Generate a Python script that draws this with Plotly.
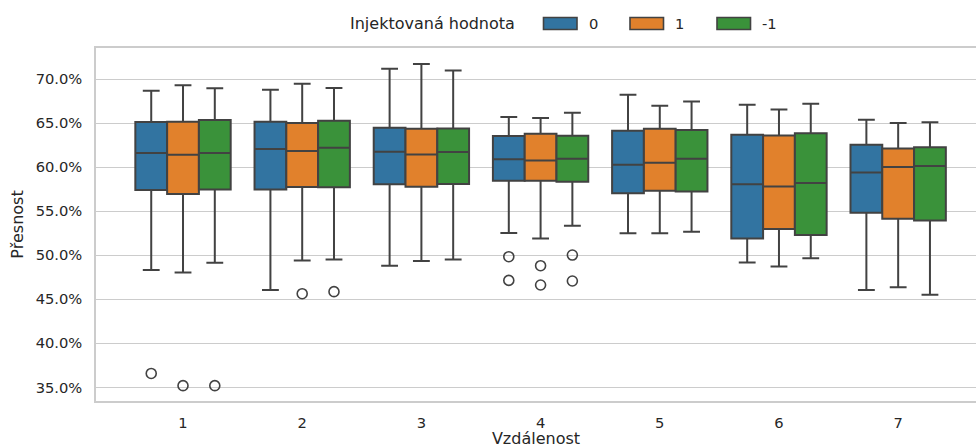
import plotly.graph_objects as go

categories = ["1", "2", "3", "4", "5", "6", "7"]
hues = ["0", "1", "-1"]
colors = ["#3274a1", "#e1812c", "#3a923a"]

# values in percent, per hue: one entry per category
upper = {
    "0":  [68.67, 68.79, 71.17, 65.69, 68.22, 67.08, 65.38],
    "1":  [69.28, 69.47, 71.70, 65.57, 66.97, 66.55, 65.00],
    "-1": [68.94, 68.98, 70.98, 66.17, 67.46, 67.20, 65.08],
}
q3 = {
    "0":  [65.12, 65.15, 64.47, 63.53, 64.13, 63.68, 62.54],
    "1":  [65.15, 65.00, 64.36, 63.79, 64.36, 63.60, 62.12],
    "-1": [65.35, 65.27, 64.39, 63.57, 64.21, 63.83, 62.24],
}
median = {
    "0":  [61.60, 62.05, 61.75, 60.88, 60.27, 58.04, 59.40],
    "1":  [61.41, 61.83, 61.44, 60.76, 60.50, 57.81, 60.01],
    "-1": [61.60, 62.20, 61.71, 60.95, 60.95, 58.19, 60.12],
}
q1 = {
    "0":  [57.40, 57.47, 58.04, 58.46, 57.02, 51.91, 54.82],
    "1":  [56.95, 57.74, 57.78, 58.46, 57.32, 52.97, 54.14],
    "-1": [57.47, 57.70, 58.08, 58.34, 57.24, 52.29, 53.95],
}
lower = {
    "0":  [48.32, 46.05, 48.81, 52.52, 52.48, 49.18, 46.05],
    "1":  [48.05, 49.41, 49.34, 51.91, 52.48, 48.73, 46.35],
    "-1": [49.15, 49.52, 49.52, 53.35, 52.67, 49.64, 45.52],
}
# outliers: list of (category index, value)
outliers = {
    "0":  [(0, 36.58), (3, 49.83), (3, 47.14)],
    "1":  [(0, 35.19), (1, 45.63), (3, 48.81), (3, 46.62)],
    "-1": [(0, 35.19), (1, 45.86), (3, 50.02), (3, 47.07)],
}
yticks = [35, 40, 45, 50, 55, 60, 65, 70]
legend_title = "Injektovaná hodnota"

W, H = 976, 448
ML, MR, MT, MB = 96, 0, 48, 47
group_width = 0.8
bw = group_width / len(hues)
edge = "#424242"
txt = "#262626"
FS_TICK = 14.7
FS_LABEL = 16


def pct(vals):
    return [v / 100 for v in vals]


fig = go.Figure()
for h, (hue, col) in enumerate(zip(hues, colors)):
    off = -group_width / 2 + bw * (h + 0.5)
    xs = [i + off for i in range(len(categories))]
    fig.add_trace(go.Box(
        name=hue, x=xs, q1=pct(q1[hue]), median=pct(median[hue]), q3=pct(q3[hue]),
        lowerfence=pct(lower[hue]), upperfence=pct(upper[hue]),
        width=bw, fillcolor=col, line=dict(color=edge, width=2),
        whiskerwidth=0.53, boxpoints=False, showlegend=False,
    ))
    ox = [c + off for c, v in outliers[hue]]
    oy = pct([v for c, v in outliers[hue]])
    fig.add_trace(go.Scatter(
        x=ox, y=oy, mode="markers", showlegend=False,
        marker=dict(symbol="circle-open", size=10, color=edge,
                    line=dict(width=1.6, color=edge)),
    ))

# legend drawn in paper space (pixel helper)
pw, ph = W - ML - MR, H - MT - MB


def px_x(x):
    return (x - ML) / pw


def px_y(y):
    return (H - MB - y) / ph


ly = 23.5
fig.add_annotation(x=px_x(348), y=px_y(ly), xref="paper", yref="paper",
                   text=legend_title, showarrow=False, xanchor="left", yanchor="middle",
                   font=dict(size=FS_LABEL, color=txt))
patch_left = [543.5, 630, 717]
for hue, col, pl in zip(hues, colors, patch_left):
    fig.add_shape(type="rect", xref="paper", yref="paper",
                  x0=px_x(pl), x1=px_x(pl + 33.5), y0=px_y(ly - 6), y1=px_y(ly + 6),
                  fillcolor=col, line=dict(color=edge, width=1.6))
    fig.add_annotation(x=px_x(pl + 43), y=px_y(ly), xref="paper", yref="paper",
                       text=hue, showarrow=False, xanchor="left", yanchor="middle",
                       font=dict(size=FS_TICK, color=txt))

fig.update_layout(
    width=W, height=H,
    margin=dict(l=ML, r=MR, t=MT, b=MB),
    paper_bgcolor="white", plot_bgcolor="white",
    font=dict(family="DejaVu Sans", size=FS_TICK, color=txt),
    showlegend=False,
)
fig.update_xaxes(
    range=[-0.73, 6.653], tickvals=list(range(len(categories))), ticktext=categories,
    showgrid=False, zeroline=False, showline=True, linecolor="#cccccc", linewidth=1.5,
    mirror=True, ticks="outside", ticklen=8, tickcolor="rgba(0,0,0,0)",
    automargin=False, tickfont=dict(size=FS_TICK),
    title=dict(text="Vzdálenost", standoff=10, font=dict(size=FS_LABEL)),
)
fig.update_yaxes(
    range=[0.3345, 0.7352], tickvals=pct(yticks), tickformat=".1%",
    showgrid=True, gridcolor="#cccccc", gridwidth=1.2, zeroline=False,
    showline=True, linecolor="#cccccc", linewidth=1.5,
    ticks="outside", ticklen=9, tickcolor="rgba(0,0,0,0)",
    automargin=False, tickfont=dict(size=FS_TICK),
    title=dict(text="Přesnost", standoff=8, font=dict(size=FS_LABEL)),
)

fig.write_html("out.html", config={"displayModeBar": False},
               post_script="document.body.style.margin='0';")
